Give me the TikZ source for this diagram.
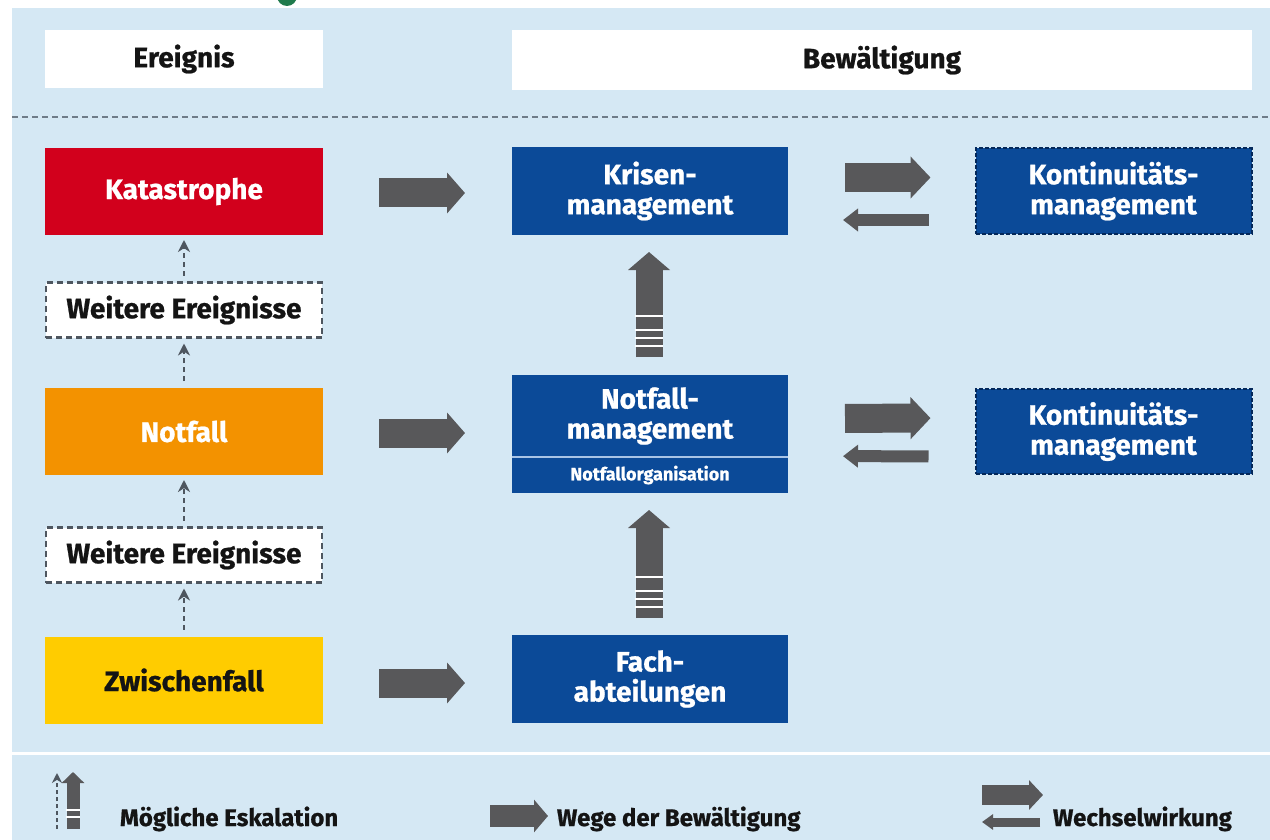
\documentclass[tikz,border=0pt]{standalone}
\usepackage{fontspec}
\setmainfont{Fira Sans}[BoldFeatures={FakeBold=0.8}]
\usetikzlibrary{arrows.meta,calc}
\definecolor{panel}{HTML}{D5E8F4}
\definecolor{kred}{HTML}{D2001C}
\definecolor{korange}{HTML}{F39200}
\definecolor{kyellow}{HTML}{FFCC00}
\definecolor{kblue}{HTML}{0B4A98}
\definecolor{kdark}{HTML}{04285A}
\definecolor{agray}{HTML}{58585A}
\definecolor{dgray}{HTML}{4E565F}
\definecolor{sepgray}{HTML}{6F7C88}
\definecolor{lightsep}{HTML}{A9C4E6}
\definecolor{tgreen}{HTML}{1F7A4C}
\definecolor{txt}{HTML}{141414}
\begin{document}
\begin{tikzpicture}[x=1pt,y=-1pt,
  every node/.style={inner sep=0pt, outer sep=0pt, align=center, text=txt,
    font=\fontsize{28}{30}\selectfont\bfseries},
  hdbox/.style={rectangle, fill=white, minimum height=58pt},
  evbox/.style={rectangle, minimum width=278pt, minimum height=87pt},
  furtherbox/.style={rectangle, fill=white, draw=dgray, line width=2.5pt,
    dash pattern=on 6pt off 4pt, minimum width=276pt, minimum height=55pt},
  bluebox/.style={rectangle, fill=kblue, text=white, minimum width=276pt, minimum height=88pt},
  kontbox/.style={rectangle, fill=kblue, text=white, draw=kdark, line width=2pt,
    dash pattern=on 4pt off 2pt, minimum width=276pt, minimum height=85pt},
  wege/.style={draw=agray, line width=29pt, -{Triangle[length=18pt,width=40pt]}},
  escup/.style={draw=agray, line width=27pt, -{Triangle[length=18pt,width=41pt]}},
  escdash/.style={draw=dgray, line width=2.6pt, dash pattern=on 5pt off 4pt,
    -{Stealth[length=12pt,width=12pt]}},
  wwright/.style={draw=agray, line width=29pt, -{Triangle[length=20pt,width=41pt]}},
  wwleft/.style={draw=agray, line width=12pt, -{Triangle[length=15pt,width=22pt]}},
  stripe/.style={draw=white, line width=2.5pt},
  legtext/.style={anchor=base west, font=\fontsize{24}{28}\selectfont\bfseries}
]
\clip (0,0) rectangle (1270,840);
\fill[white] (0,0) rectangle (1270,840);
\fill[panel] (12,8) rectangle (1270,840);
\fill[tgreen] (287,-4) circle (10pt);

% headers
\node[hdbox, minimum width=278pt] (ereig) at (184,59) {Ereignis};
\node[hdbox, minimum width=740pt, minimum height=60pt] (bew) at (882,60) {Bewältigung};
\draw[sepgray, line width=2pt, dash pattern=on 6pt off 4pt] (12,117) -- (1270,117);

% events
\node[evbox, fill=kred, text=white] (kat) at (184,191.5) {Katastrophe};
\node[furtherbox] (wei1) at (184,310) {Weitere Ereignisse};
\node[evbox, fill=korange, text=white] (not) at (184,431.5) {Notfall};
\node[furtherbox] (wei2) at (184,555) {Weitere Ereignisse};
\node[evbox, fill=kyellow] (zw) at (184,680) {Zwischenfall};

% management
\node[bluebox] (kri) at (650,191) {Krisen-\\management};
\node[bluebox, minimum height=82pt] (nm) at (650,416) {Notfall-\\management};
\node[bluebox, minimum height=36pt, font=\fontsize{18}{20}\selectfont\bfseries] (no) at (650,475) {Notfallorganisation};
\draw[lightsep, line width=1.5pt] (nm.south west) -- (nm.south east);
\node[bluebox] (fa) at (650,679) {Fach-\\abteilungen};

\node[kontbox] (kon1) at (1113.5,191) {Kontinuitäts-\\management};
\node[kontbox] (kon2) at (1113.5,431.5) {Kontinuitäts-\\management};

% escalation dashed arrows
\draw[escdash, shorten <=7pt, shorten >=5pt] (wei1.north) -- (kat.south);
\draw[escdash, shorten <=7pt, shorten >=6pt] (not.north) -- (wei1.south);
\draw[escdash, shorten <=7pt, shorten >=5pt] (wei2.north) -- (not.south);
\draw[escdash, shorten <=7pt, shorten >=6pt] (zw.north) -- (wei2.south);

% ways of coping
\draw[wege, shorten <=56pt, shorten >=47pt] ($(kat.east)+(0,1.5)$) -- ($(kri.west)+(0,2)$);
\draw[wege, shorten <=56pt, shorten >=47pt] ($(not.east)+(0,1.5)$) -- ($(nm.west)+(0,17)$);
\draw[wege, shorten <=56pt, shorten >=47pt] ($(zw.east)+(0,3)$) -- ($(fa.west)+(0,4)$);

% escalation big arrows
\draw[escup, shorten <=18pt, shorten >=17pt] ($(nm.north)+(-1,0)$) -- ($(kri.south)+(-1,0)$);
\foreach \d in {41,27,19,11}
  \draw[stripe] ($(nm.north)+(-15,-18-\d)$) -- ($(nm.north)+(13,-18-\d)$);
\draw[escup, shorten <=17pt, shorten >=17pt] ($(fa.north)+(-1,0)$) -- ($(no.south)+(-1,0)$);
\foreach \d in {41,27,19,11}
  \draw[stripe] ($(fa.north)+(-15,-17-\d)$) -- ($(fa.north)+(13,-17-\d)$);

% interaction arrows
\draw[wwright, shorten <=57pt, shorten >=45pt] ($(kri.east)+(0,-13.5)$) -- ($(kon1.west)+(0,-13.5)$);
\draw[wwleft, shorten <=47pt, shorten >=55pt] ($(kon1.west)+(0,29)$) -- ($(kri.east)+(0,29)$);
\draw[wwright, shorten <=57pt, shorten >=45pt] ($(nm.east)+(0,2.5)$) -- ($(kon2.west)+(0,-13.5)$);
\draw[wwleft, shorten <=47pt, shorten >=55pt] ($(kon2.west)+(0,25)$) -- ($(no.east)+(0,-19)$);

% legend
\draw[white, line width=3pt] (12,753) -- (1270,753);
\draw[draw=dgray, line width=2pt, dash pattern=on 4pt off 3pt, -{Stealth[length=10pt,width=10pt]}] (57,829) -- (57,773);
\draw[draw=agray, line width=13pt, -{Triangle[length=11pt,width=22pt]}] (73,829) -- (73,772);
\draw[stripe, line width=2pt] (66,810) -- (80,810);
\draw[stripe, line width=2pt] (66,817) -- (80,817);
\node[legtext] (l1) at (120,826) {Mögliche Eskalation};
\draw[draw=agray, line width=22pt, -{Triangle[length=14pt,width=32pt]}] (490,816) -- (548,816);
\node[legtext] (l2) at (557,826) {Wege der Bewältigung};
\draw[draw=agray, line width=20pt, -{Triangle[length=14pt,width=29pt]}] (982,795) -- (1043,795);
\draw[draw=agray, line width=9pt, -{Triangle[length=11pt,width=15pt]}] (1040,822) -- (982,822);
\node[legtext] (l3) at (1053,826) {Wechselwirkung};
\end{tikzpicture}
\end{document}
